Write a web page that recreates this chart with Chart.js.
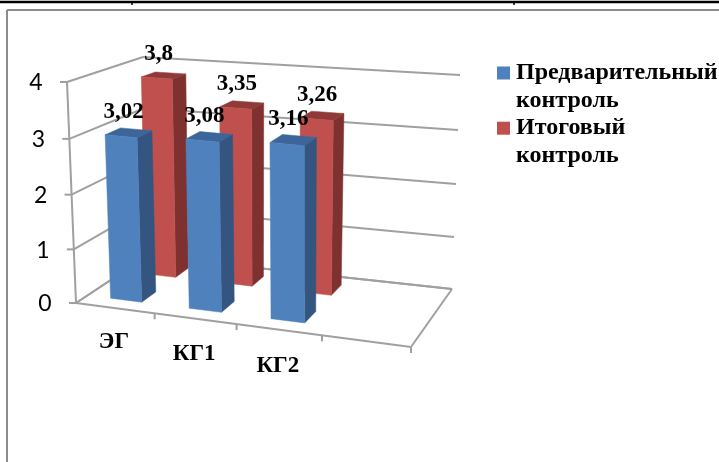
<!DOCTYPE html>
<html><head><meta charset="utf-8">
<style>html,body{margin:0;padding:0;background:#fff}canvas{display:block}</style>
<script src="https://cdn.jsdelivr.net/npm/chart.js@4"></script></head>
<body><canvas id="c" width="719" height="462"></canvas>
<script>
const categories = ['ЭГ','КГ1','КГ2',''];
const seriesNames = [['Предварительный','контроль'],['Итоговый','контроль']];
const preliminary = [3.02,3.08,3.16,null];
const finalControl = [3.8,3.35,3.26,null];
const valueText = [['3,02','3,08','3,16'],['3,8','3,35','3,26']];
const faceColors = [
  {front:'#4F81BD',side:'#33557F',top:'#3C6699'},
  {front:'#C0504D',side:'#7E312F',top:'#8F3A38'}];
const rowDepth = [0.25,0.75], rowSize = 0.2;
const floorQuad = {A:[76,303],B:[411,347],C:[452,289],D:[147,256]};
const wallHeight = {fl:[-9,-221],fr:[3,-233],bl:[-4,-199],br:[8,-214]};
const GRID = '#A0A0A0';

function floorPoint(u0,d){
  const u=u0+0.05*u0*(1-u0);
  const {A,B,C,D}=floorQuad;
  const sx=A[0]-B[0]+C[0]-D[0], sy=A[1]-B[1]+C[1]-D[1];
  const dx1=B[0]-C[0], dx2=D[0]-C[0], dy1=B[1]-C[1], dy2=D[1]-C[1];
  const det=dx1*dy2-dx2*dy1;
  const g=(sx*dy2-dx2*sy)/det, h=(dx1*sy-sx*dy1)/det;
  const w=g*u+h*d+1;
  return [((B[0]-A[0]+g*B[0])*u+(D[0]-A[0]+h*D[0])*d+A[0])/w,
          ((B[1]-A[1]+g*B[1])*u+(D[1]-A[1]+h*D[1])*d+A[1])/w];
}
function project(u,d,t){
  const p=floorPoint(u,d), W=wallHeight, f=t/(1+0.04*(1-t));
  const hv=i=>(1-d)*((1-u)*W.fl[i]+u*W.fr[i])+d*((1-u)*W.bl[i]+u*W.br[i]);
  return [p[0]+hv(0)*f,p[1]+hv(1)*f];
}
function poly(ctx,pts,fill){
  ctx.beginPath();pts.forEach((p,i)=>i?ctx.lineTo(p[0],p[1]):ctx.moveTo(p[0],p[1]));ctx.closePath();
  ctx.fillStyle=fill;ctx.fill();ctx.strokeStyle=fill;ctx.lineWidth=0.5;ctx.stroke();
}
function line(ctx,a,b){ctx.beginPath();ctx.moveTo(a[0],a[1]);ctx.lineTo(b[0],b[1]);ctx.stroke();}

const scene3d = {
  id:'scene3d',
  afterLayout(chart){
    const l=chart.legend;
    l.left=503; l.right=719; l.top=61; l.bottom=200;
    l.draw=function(){this._draw();};
  },
  beforeDatasetDraw(){return false;},
  beforeDatasetsDraw(chart){
    const ctx=chart.ctx,xs=chart.scales.x,ys=chart.scales.y;
    const T=v=>(ys.getPixelForValue(0)-ys.getPixelForValue(v))/(ys.bottom-ys.top);
    const U=px=>(px-xs.left)/xs.width;
    ctx.save();
    ctx.strokeStyle='#000';ctx.lineWidth=2.4;line(ctx,[0,2],[719,2]);
    ctx.lineWidth=1.5;line(ctx,[132,2],[132,5]);line(ctx,[514,2],[514,5]);
    ctx.strokeStyle='#8C8C8C';ctx.lineWidth=2;line(ctx,[7,10],[719,10]);line(ctx,[7,10],[7,462]);
    ctx.strokeStyle=GRID;ctx.lineWidth=2;
    ys.ticks.forEach(tk=>{
      const t=T(tk.value);
      const a=project(0,0,t),b=project(0,1,t),c=project(1,1,t);
      line(ctx,[a[0]-7,a[1]],a);line(ctx,a,b);line(ctx,b,c);
    });
    line(ctx,project(0,0,0),project(0,0,1));
    const {A,B,C,D}=floorQuad;
    line(ctx,A,B);line(ctx,B,C);line(ctx,C,D);line(ctx,D,A);
    const band=xs.width/categories.length;
    categories.forEach((c,i)=>{
      const u=U(xs.getPixelForValue(i)+band/2);
      const p=project(u,0,0);line(ctx,p,[p[0],p[1]+6]);
    });
    ctx.fillStyle='#000';ctx.font='23px Lato';ctx.textAlign='center';ctx.textBaseline='middle';
    ys.ticks.forEach(tk=>{
      const p=project(0,0,T(tk.value));
      ctx.fillText(tk.label,p[0]-31,p[1]+1);
    });
    [1,0].forEach(ds=>{
      const meta=chart.getDatasetMeta(ds), col=faceColors[ds];
      const d0=rowDepth[ds]-rowSize/2,d1=rowDepth[ds]+rowSize/2;
      meta.data.forEach((bar,i)=>{
        const v=chart.data.datasets[ds].data[i];
        if(v==null)return;
        const u0=U(bar.x-bar.width/2),u1=U(bar.x+bar.width/2),t=T(v);
        poly(ctx,[project(u1,d0,0),project(u1,d1,0),project(u1,d1,t),project(u1,d0,t)],col.side);
        poly(ctx,[project(u0,d0,t),project(u1,d0,t),project(u1,d1,t),project(u0,d1,t)],col.top);
        poly(ctx,[project(u0,d0,0),project(u1,d0,0),project(u1,d0,t),project(u0,d0,t)],col.front);
      });
    });
    ctx.restore();
  },
  afterDatasetsDraw(chart){
    const ctx=chart.ctx,xs=chart.scales.x,ys=chart.scales.y;
    const T=v=>(ys.getPixelForValue(0)-ys.getPixelForValue(v))/(ys.bottom-ys.top);
    const U=px=>(px-xs.left)/xs.width;
    ctx.save();
    ctx.fillStyle='#000';ctx.textAlign='center';ctx.textBaseline='middle';
    ctx.font='bold 23px "Liberation Serif"';
    [0,1].forEach(ds=>{
      chart.getDatasetMeta(ds).data.forEach((bar,i)=>{
        const v=chart.data.datasets[ds].data[i];
        if(v==null)return;
        const p=project(U(bar.x),rowDepth[ds],T(v));
        ctx.fillText(valueText[ds][i],p[0]-5,p[1]-21);
      });
    });
    categories.forEach((c,i)=>{
      const p=project(U(xs.getPixelForValue(i)),0,0);
      ctx.fillText(c,p[0]-1,p[1]+34+i);
    });
    ctx.restore();
  }
};

new Chart(document.getElementById('c'),{
  type:'bar',
  data:{labels:categories,datasets:[
    {label:seriesNames[0],data:preliminary,backgroundColor:faceColors[0].front,grouped:false,categoryPercentage:0.4,barPercentage:1},
    {label:seriesNames[1],data:finalControl,backgroundColor:faceColors[1].front,grouped:false,categoryPercentage:0.4,barPercentage:1}
  ]},
  options:{
    responsive:false,animation:false,
    layout:{padding:{left:76,top:82,bottom:159,right:0}},
    plugins:{tooltip:{enabled:false},title:{display:false},
      legend:{position:'right',align:'start',
        labels:{boxWidth:1,boxHeight:1,padding:0,color:'#000',
          font:{family:'"Liberation Serif"',size:24,weight:'bold',lineHeight:1.15},
          generateLabels(chart){
            return chart.data.datasets.map((ds,i)=>({text:ds.label,fillStyle:faceColors[i].front,strokeStyle:faceColors[i].front,lineWidth:12,datasetIndex:i,hidden:false}));
          }}}},
    scales:{
      x:{grid:{display:false},border:{display:false},ticks:{display:false}},
      y:{min:0,max:4,grid:{display:false},border:{display:false},ticks:{display:false,stepSize:1}}
    }
  },
  plugins:[scene3d]
});
</script></body></html>
